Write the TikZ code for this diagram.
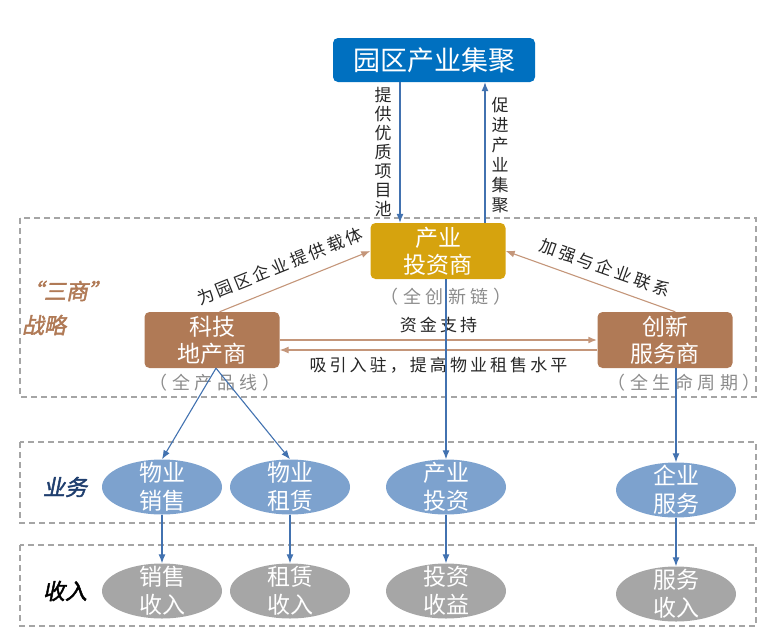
\documentclass[tikz,border=0pt]{standalone}
\usepackage{fontspec}
\setmainfont{Noto Sans CJK SC}
\newfontfamily\lblfont[LetterSpace=18]{Noto Sans CJK SC}
\newfontfamily\subfont[LetterSpace=25]{Noto Sans CJK SC}
\newfontfamily\tagfont[FakeSlant=0.2,FakeBold=2]{Noto Sans CJK SC}
\usetikzlibrary{shapes.geometric, arrows.meta}
\definecolor{parkblue}{RGB}{0,112,192}
\definecolor{investgold}{RGB}{214,163,14}
\definecolor{estatebrown}{RGB}{176,122,86}
\definecolor{linkbrown}{RGB}{196,150,122}
\definecolor{bizblue}{RGB}{125,162,206}
\definecolor{revgray}{RGB}{166,166,166}
\definecolor{flowblue}{RGB}{66,114,176}
\definecolor{framegray}{RGB}{165,165,165}
\definecolor{subgray}{RGB}{140,140,140}
\definecolor{tagblue}{RGB}{31,62,110}
\begin{document}
\begin{tikzpicture}[x=1pt, y=-1pt, >={Latex[length=9pt,width=7pt]},
  box/.style={rounded corners=5pt, text=white, align=center, minimum width=135pt, minimum height=56pt, font=\fontsize{23}{27}\selectfont},
  biz/.style={ellipse, fill=bizblue, text=white, align=center, minimum width=120pt, minimum height=55pt, inner sep=-8pt, font=\fontsize{23}{28}\selectfont},
  rev/.style={biz, fill=revgray},
  frame/.style={draw=framegray, line width=1.3pt, dash pattern=on 6pt off 4pt},
  flow/.style={->, flowblue, line width=1.1pt},
  link/.style={->, linkbrown, line width=1.1pt},
  lbl/.style={font=\lblfont\fontsize{17}{19}\selectfont, text=black!85},
  sub/.style={font=\subfont\fontsize{18}{20}\selectfont, text=subgray},
  tag/.style={font=\tagfont\fontsize{22}{34}\selectfont, align=left}]
\useasboundingbox (0,0) rectangle (771,640);
% Frames
\draw[frame] (20,218) rectangle (756,397);
\draw[frame] (20,442) rectangle (756,523);
\draw[frame] (20,545) rectangle (756,626);
% Row tags
\node[tag, text=estatebrown] (tagsan) at (66,308) {“三商”\\战略};
\node[tag, text=tagblue] (tagbiz) at (65,487) {业务};
\node[tag, text=black] (tagrev) at (65,591) {收入};
% Top box
\node[box, fill=parkblue, minimum width=202pt, minimum height=44pt, font=\fontsize{27}{30}\selectfont] (park) at (434,60) {园区产业集聚};
% Three players
\node[box, fill=investgold] (iv) at (438,251) {产业\\投资商};
\node[box, fill=estatebrown] (dc) at (212,340) {科技\\地产商};
\node[box, fill=estatebrown] (cs) at (665,340) {创新\\服务商};
\node[sub] (ivsub) at (446,297) {（全创新链）};
\node[sub] (dcsub) at (215,383) {（全产品线）};
\node[sub] (cssub) at (684,383) {（全生命周期）};
% Business
\node[biz] (sale) at (162,487) {物业\\销售};
\node[biz] (lease) at (290,487) {物业\\租赁};
\node[biz] (inv) at (446,487) {产业\\投资};
\node[biz] (svc) at (676,490) {企业\\服务};
% Revenue
\node[rev] (salerev) at (162,591) {销售\\收入};
\node[rev] (leaserev) at (290,591) {租赁\\收入};
\node[rev] (invrev) at (446,591) {投资\\收益};
\node[rev] (svcrev) at (676,594) {服务\\收入};
% Park links
\draw[flow] ([xshift=-34pt]park.south) -- ([xshift=-38pt]iv.north);
\draw[flow] ([xshift=47pt]iv.north) -- ([xshift=51pt]park.south);
\node[lbl, align=center, font=\fontsize{17}{19}\selectfont] (poolnote) at (383,152) {提\\供\\优\\质\\项\\目\\池};
\node[lbl, align=center, font=\fontsize{17}{20}\selectfont] (clusternote) at (500,155) {促\\进\\产\\业\\集\\聚};
% Links between the three
\draw[link] (dc.75) -- node[lbl, sloped, above=8pt, pos=0.45] {为园区企业提供载体} (iv.west);
\draw[<-, linkbrown, line width=1.1pt] (iv.east) -- node[lbl, sloped, above=6pt, pos=0.55] {加强与企业联系} (cs.70);
\draw[link, line width=1.8pt] (dc.east) -- node[lbl, above=3pt] {资金支持} (cs.west);
\draw[link] ([yshift=-10pt]cs.west) -- node[lbl, below=3pt] {吸引入驻，提高物业租售水平} ([yshift=-10pt]dc.east);
% Down to business
\draw[flow] ([xshift=4pt]dc.south) -- (sale.north);
\draw[flow] ([xshift=4pt]dc.south) -- (lease.north);
\draw[flow] (iv.south -| inv.north) -- (inv.north);
\draw[flow] (cs.south -| svc.north) -- (svc.north);
% Down to revenue
\draw[flow] (sale.south) -- (salerev.north);
\draw[flow] (lease.south) -- (leaserev.north);
\draw[flow] (inv.south) -- (invrev.north);
\draw[flow] (svc.south) -- (svcrev.north);
\end{tikzpicture}
\end{document}
